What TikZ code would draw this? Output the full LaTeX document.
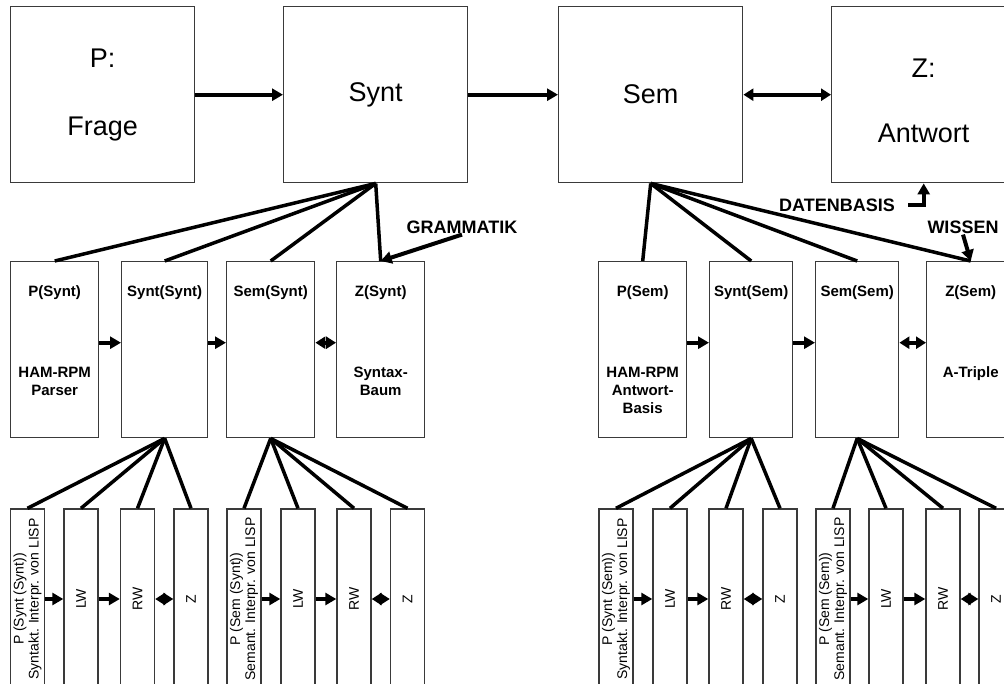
\documentclass[tikz,border=0pt]{standalone}
\usepackage{fontspec}
\setmainfont{Liberation Sans}
\usepackage{xcolor}
\usetikzlibrary{arrows.meta,positioning}
\definecolor{cInk}{HTML}{000000}
\definecolor{cEdge}{HTML}{3A3A3A}
\tikzset{
  topbox/.style={draw=cEdge,line width=1.4pt,minimum width=184pt,minimum height=176pt,anchor=north west,align=center,inner sep=0pt,font=\fontsize{27}{32}\selectfont},
  midbox/.style={draw=cEdge,line width=1.4pt,minimum width=88pt,anchor=north west,align=center,text width=82pt,inner sep=3pt,
    font=\fontsize{15}{18}\selectfont\bfseries,text height=32pt,text depth=138pt},
  lowbox/.style={draw=cEdge,line width=1.4pt,rotate=90,minimum width=180pt,minimum height=34pt,inner sep=1pt,align=center,font=\fontsize{14}{15}\selectfont},
  lbl/.style={font=\fontsize{18}{20}\selectfont\bfseries,inner sep=1pt},
  arr/.style={-{Triangle[length=11pt,width=12pt]},line width=4pt,color=cInk},
  darr/.style={{Triangle[length=10pt,width=12pt]}-{Triangle[length=10pt,width=12pt]},line width=4pt,color=cInk},
  fan/.style={line width=3.5pt,color=cInk,line join=round},
}

\begin{document}
\begin{tikzpicture}[x=1pt,y=-1pt]
  \useasboundingbox (0,0) rectangle (1004,683);
  \clip (0,0) rectangle (1004,683);

  % obere Ebene
  \node[topbox] (frage)   at (10,6)  {P:\\[36pt]Frage};
  \node[topbox] (synt)    at (283,6) {Synt};
  \node[topbox] (sem)     at (558,6) {Sem};
  \node[topbox] (antwort) at (831,6) {\rule{0pt}{30pt}Z:\\[33pt]Antwort};
  \draw[arr]  (frage) -- (synt);
  \draw[arr]  (synt) -- (sem);
  \draw[darr] (sem) -- (antwort);

  % mittlere Ebene, links
  \node[midbox] (psynt)    at (10,261)  {P(Synt)\\[63pt]HAM-RPM\\Parser};
  \node[midbox,minimum width=86pt,text width=80pt] (syntsynt) at (121,261) {Synt(Synt)};
  \node[midbox] (semsynt)  at (226,261) {Sem(Synt)};
  \node[midbox] (zsynt)    at (336,261) {Z(Synt)\\[63pt]Syntax-\\Baum};
  \draw[arr]  ([yshift=7pt]psynt.east) -- ([yshift=7pt]syntsynt.west);
  \draw[arr]  ([yshift=7pt]syntsynt.east) -- ([yshift=7pt]semsynt.west);
  \draw[darr] ([yshift=7pt]semsynt.east) -- ([yshift=7pt]zsynt.west);
  \foreach \t in {psynt,syntsynt,semsynt,zsynt}
    \draw[fan] (synt.south) -- (\t.north);

  % mittlere Ebene, rechts
  \node[midbox] (psem)    at (598,261) {P(Sem)\\[63pt]HAM-RPM\\Antwort-\\Basis};
  \node[midbox,minimum width=83pt,text width=77pt] (syntsem) at (709,261) {Synt(Sem)};
  \node[midbox,minimum width=83pt,text width=77pt] (semsem)  at (815,261) {Sem(Sem)};
  \node[midbox] (zsem)    at (926,261) {Z(Sem)\\[63pt]A-Triple};
  \draw[arr]  ([yshift=7pt]psem.east) -- ([yshift=7pt]syntsem.west);
  \draw[arr]  ([yshift=7pt]syntsem.east) -- ([yshift=7pt]semsem.west);
  \draw[darr] ([yshift=7pt]semsem.east) -- ([yshift=7pt]zsem.west);
  \foreach \t in {psem,syntsem,semsem,zsem}
    \draw[fan] (sem.south) -- (\t.north);

  % Wissensquellen
  \node[lbl] (gram)   at (462,227) {GRAMMATIK};
  \node[lbl] (daten)  at (837,205) {DATENBASIS};
  \node[lbl] (wissen) at (963,227) {WISSEN};
  \draw[arr] (gram.south) -- (zsynt.north);
  \draw[arr] ([xshift=12pt]daten.east) -| (antwort.south);
  \draw[arr] (wissen.south) -- (zsem.north);

  % untere Ebene, Synt(Synt) und Sem(Synt)
  \node[lowbox] (ss1) at (27.5,599) {P (Synt (Synt))\\Syntakt. Interpr. von LISP};
  \node[lowbox] (ss2) at (81,599)   {LW};
  \node[lowbox] (ss3) at (137.5,599) {RW};
  \node[lowbox] (ss4) at (191,599)  {Z};
  \node[lowbox] (ms1) at (244,599)  {P (Sem (Synt))\\Semant. Interpr. von LISP};
  \node[lowbox] (ms2) at (298,599)  {LW};
  \node[lowbox] (ms3) at (354,599)  {RW};
  \node[lowbox] (ms4) at (407.5,599) {Z};
  \draw[arr] (ss1) -- (ss2);
  \draw[arr] (ss2) -- (ss3);
  \draw[darr] (ss3) -- (ss4);
  \draw[arr] (ms1) -- (ms2);
  \draw[arr] (ms2) -- (ms3);
  \draw[darr] (ms3) -- (ms4);
  \foreach \t in {ss1,ss2,ss3,ss4}
    \draw[fan] (syntsynt.south) -- (\t.east);
  \foreach \t in {ms1,ms2,ms3,ms4}
    \draw[fan] (semsynt.south) -- (\t.east);

  % untere Ebene, Synt(Sem) und Sem(Sem)
  \node[lowbox] (se1) at (616,599) {P (Synt (Sem))\\Syntakt. Interpr. von LISP};
  \node[lowbox] (se2) at (670,599) {LW};
  \node[lowbox] (se3) at (726,599) {RW};
  \node[lowbox] (se4) at (780,599) {Z};
  \node[lowbox] (me1) at (833,599) {P (Sem (Sem))\\Semant. Interpr. von LISP};
  \node[lowbox] (me2) at (886,599) {LW};
  \node[lowbox] (me3) at (943,599) {RW};
  \node[lowbox] (me4) at (996,599) {Z};
  \draw[arr] (se1) -- (se2);
  \draw[arr] (se2) -- (se3);
  \draw[darr] (se3) -- (se4);
  \draw[arr] (me1) -- (me2);
  \draw[arr] (me2) -- (me3);
  \draw[darr] (me3) -- (me4);
  \foreach \t in {se1,se2,se3,se4}
    \draw[fan] (syntsem.south) -- (\t.east);
  \foreach \t in {me1,me2,me3,me4}
    \draw[fan] (semsem.south) -- (\t.east);
\end{tikzpicture}
\end{document}
